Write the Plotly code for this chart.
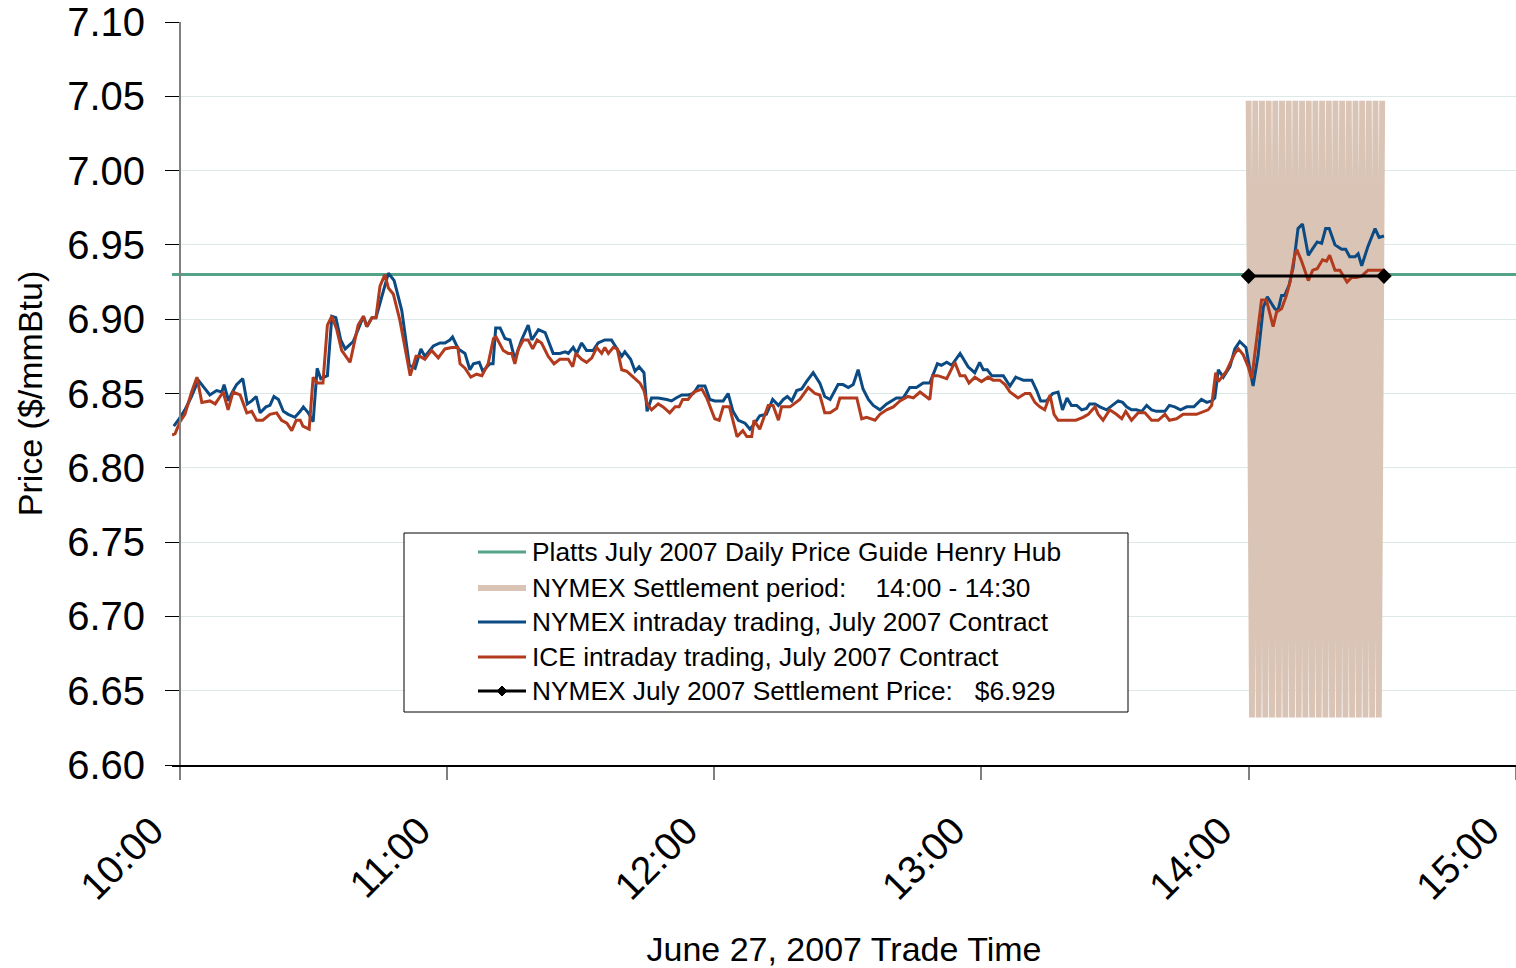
import plotly.graph_objects as go

# ---------------- data ----------------
# minutes after 10:00, price $/mmBtu
nymex_min = [-1.4, -0.4, 1.1, 2.6, 4.1, 5.2, 6.7, 8.2, 9.4, 9.9, 10.9, 11.6, 12.7, 14.1, 15.1, 16.1, 17.1, 18.0, 19.3, 20.2,
             21.1, 22.1, 23.2, 24.3, 25.8, 27.0, 27.7, 28.8, 29.9, 30.8, 31.6, 33.1, 34.1, 35.0, 36.1, 37.1, 38.9, 40.4,
             41.2, 42.0, 43.1, 44.0, 45.3, 46.8, 48.1, 49.8, 51.5, 52.8, 54.1, 55.0, 56.9, 58.4, 59.5, 60.6, 61.2, 62.5,
             64.0, 65.1, 65.9, 67.2, 68.0, 69.6, 70.3, 70.9, 71.9, 73.0, 74.1, 75.2, 76.7, 78.2, 79.0, 80.5, 82.0, 83.8,
             85.3, 86.5, 87.2, 88.3, 89.1, 90.2, 91.3, 92.8, 93.9, 95.4, 96.9, 98.1, 99.2, 99.9, 101.2, 102.2, 103.1,
             104.2, 104.9, 105.9, 107.4, 109.3, 110.4, 111.4, 112.7, 114.1, 115.3, 116.4, 117.9, 119.0, 120.1, 122.0,
             123.1, 124.2, 125.4, 126.9, 128.0, 129.1, 130.2, 131.7, 133.1, 134.4, 135.5, 136.4, 137.4, 138.5, 139.6,
             140.7, 142.2, 143.7, 144.8, 146.0, 147.8, 148.9, 150.1, 151.2, 152.3, 153.4, 154.6, 155.7, 157.2, 158.7,
             159.8, 160.9, 162.4, 163.9, 165.4, 166.9, 168.4, 170.1, 171.0, 172.2, 173.3, 175.2, 177.0, 178.5, 179.6,
             180.4, 181.3, 182.3, 183.4, 184.9, 186.4, 187.7, 189.4, 191.3, 192.4, 193.3, 194.6, 196.0, 197.2, 198.2,
             199.2, 200.2, 201.4, 202.5, 203.6, 204.3, 205.5, 206.6, 208.1, 209.4, 210.7, 211.7, 212.6, 213.7, 214.8,
             216.0, 217.1, 218.2, 219.3, 221.2, 222.2, 223.4, 224.7, 226.1, 227.7, 229.4, 230.6, 231.7, 232.4, 233.2,
             234.3, 235.8, 236.9, 238.0, 239.4, 240.3, 241.0, 242.1, 243.3, 244.2, 244.9, 245.9, 246.6, 247.4, 248.1,
             249.1, 250.0, 251.1, 252.1, 253.4, 254.5, 255.4, 256.4, 257.3, 258.1, 259.4, 260.9, 261.8, 262.7, 263.9,
             264.6, 265.4, 266.8, 268.4, 269.3, 270.4]
nymex_px = [6.828, 6.832, 6.839, 6.848, 6.859, 6.855, 6.849, 6.852, 6.851, 6.856, 6.845, 6.850, 6.856, 6.860, 6.843, 6.845,
            6.848, 6.837, 6.841, 6.842, 6.848, 6.846, 6.838, 6.836, 6.834, 6.838, 6.841, 6.837, 6.831, 6.867, 6.860, 6.862,
            6.902, 6.901, 6.886, 6.880, 6.885, 6.896, 6.902, 6.895, 6.901, 6.901, 6.915, 6.931, 6.926, 6.906, 6.869, 6.867,
            6.880, 6.875, 6.882, 6.884, 6.884, 6.886, 6.888, 6.880, 6.877, 6.866, 6.870, 6.871, 6.865, 6.870, 6.870, 6.894,
            6.894, 6.887, 6.886, 6.873, 6.886, 6.896, 6.886, 6.893, 6.891, 6.877, 6.877, 6.878, 6.877, 6.881, 6.877, 6.884,
            6.879, 6.879, 6.884, 6.886, 6.886, 6.880, 6.875, 6.878, 6.873, 6.865, 6.868, 6.864, 6.838, 6.847, 6.847, 6.846,
            6.845, 6.847, 6.849, 6.849, 6.850, 6.855, 6.855, 6.846, 6.845, 6.845, 6.850, 6.838, 6.832, 6.830, 6.826, 6.830,
            6.835, 6.836, 6.846, 6.842, 6.846, 6.848, 6.845, 6.852, 6.853, 6.858, 6.864, 6.857, 6.848, 6.846, 6.856, 6.856,
            6.854, 6.856, 6.866, 6.853, 6.846, 6.842, 6.839, 6.843, 6.845, 6.847, 6.847, 6.854, 6.854, 6.857, 6.857, 6.870,
            6.869, 6.871, 6.869, 6.877, 6.868, 6.864, 6.871, 6.866, 6.866, 6.862, 6.862, 6.862, 6.855, 6.861, 6.859, 6.859,
            6.852, 6.845, 6.845, 6.850, 6.851, 6.839, 6.847, 6.842, 6.842, 6.839, 6.840, 6.843, 6.843, 6.841, 6.839, 6.842,
            6.845, 6.844, 6.841, 6.839, 6.839, 6.838, 6.842, 6.839, 6.838, 6.838, 6.842, 6.841, 6.839, 6.841, 6.841, 6.846,
            6.844, 6.845, 6.847, 6.866, 6.861, 6.868, 6.880, 6.885, 6.881, 6.866, 6.855, 6.875, 6.908, 6.915, 6.912, 6.907,
            6.906, 6.916, 6.916, 6.923, 6.935, 6.961, 6.964, 6.943, 6.948, 6.952, 6.951, 6.961, 6.961, 6.950, 6.947, 6.947,
            6.942, 6.942, 6.944, 6.936, 6.949, 6.961, 6.955, 6.956]

ice_min = [-1.8, -1.1, 0.0, 1.1, 2.6, 3.8, 4.9, 6.7, 7.9, 9.7, 10.8, 11.9, 13.5, 15.0, 16.1, 17.2, 18.6, 20.2, 21.7, 22.8,
           24.0, 25.1, 26.1, 27.0, 27.6, 29.0, 29.9, 30.7, 32.1, 33.1, 34.1, 35.2, 36.3, 38.2, 40.0, 41.2, 41.9, 43.1,
           44.0, 44.9, 46.0, 46.8, 47.9, 49.4, 51.7, 53.0, 53.9, 55.0, 56.5, 58.0, 59.5, 61.0, 62.4, 62.9, 64.0, 65.3,
           66.6, 67.8, 69.2, 70.4, 71.0, 72.6, 73.7, 74.5, 75.2, 76.0, 77.1, 78.2, 79.2, 80.2, 81.2, 82.7, 84.0, 85.3,
           87.2, 88.2, 88.9, 90.2, 91.3, 92.5, 93.6, 94.7, 95.4, 96.2, 97.3, 98.2, 99.2, 100.3, 101.8, 103.3, 104.2,
           104.9, 105.9, 107.4, 108.5, 110.0, 111.2, 112.1, 112.9, 114.1, 115.4, 117.2, 118.3, 119.4, 120.1, 121.1,
           122.0, 123.4, 124.2, 125.1, 126.4, 127.3, 128.4, 128.9, 130.2, 132.1, 133.2, 134.4, 135.1, 137.0, 139.2,
           141.1, 142.6, 143.7, 144.8, 146.0, 147.5, 148.2, 152.0, 153.1, 154.2, 156.1, 157.2, 158.7, 160.2, 161.7,
           163.5, 164.7, 166.2, 168.4, 169.0, 170.2, 172.2, 174.0, 175.2, 176.3, 177.2, 178.5, 180.0, 181.5, 182.6,
           184.1, 185.3, 186.4, 188.2, 189.8, 190.9, 192.0, 193.1, 194.2, 195.4, 196.3, 197.2, 199.1, 201.2, 202.8,
           204.0, 205.5, 206.2, 207.3, 208.8, 210.3, 211.5, 212.4, 213.7, 215.2, 216.7, 218.2, 219.7, 221.2, 222.2,
           223.8, 225.3, 228.3, 229.8, 230.9, 231.7, 232.6, 233.2, 235.0, 236.9, 237.7, 238.8, 239.9, 240.7, 241.8,
           242.9, 244.0, 245.5, 246.3, 247.4, 248.5, 249.3, 250.2, 250.8, 251.9, 253.4, 254.4, 255.4, 256.6, 257.5,
           258.2, 259.4, 260.5, 262.1, 263.1, 264.2, 265.4, 266.8, 269.1, 270.4]
ice_px = [6.822, 6.823, 6.831, 6.836, 6.851, 6.861, 6.844, 6.845, 6.843, 6.851, 6.839, 6.851, 6.849, 6.837, 6.838, 6.832,
          6.832, 6.836, 6.837, 6.832, 6.830, 6.825, 6.832, 6.832, 6.828, 6.826, 6.861, 6.857, 6.857, 6.896, 6.902, 6.893,
          6.879, 6.871, 6.896, 6.902, 6.895, 6.901, 6.901, 6.922, 6.930, 6.921, 6.917, 6.899, 6.862, 6.875, 6.875, 6.873,
          6.879, 6.874, 6.880, 6.881, 6.881, 6.870, 6.867, 6.861, 6.863, 6.862, 6.870, 6.887, 6.888, 6.879, 6.877, 6.877,
          6.870, 6.880, 6.886, 6.886, 6.880, 6.886, 6.884, 6.875, 6.870, 6.873, 6.873, 6.868, 6.877, 6.873, 6.871, 6.874,
          6.881, 6.877, 6.881, 6.877, 6.881, 6.880, 6.866, 6.865, 6.861, 6.857, 6.852, 6.843, 6.839, 6.843, 6.841, 6.837,
          6.841, 6.841, 6.846, 6.846, 6.851, 6.853, 6.847, 6.838, 6.833, 6.832, 6.841, 6.841, 6.832, 6.821, 6.825, 6.821,
          6.821, 6.832, 6.826, 6.842, 6.842, 6.832, 6.841, 6.841, 6.846, 6.854, 6.850, 6.849, 6.837, 6.837, 6.840, 6.847,
          6.847, 6.833, 6.834, 6.832, 6.836, 6.839, 6.841, 6.845, 6.848, 6.847, 6.851, 6.846, 6.862, 6.862, 6.860, 6.871,
          6.862, 6.862, 6.857, 6.861, 6.858, 6.861, 6.859, 6.859, 6.856, 6.851, 6.847, 6.850, 6.850, 6.844, 6.841, 6.839,
          6.849, 6.836, 6.832, 6.832, 6.832, 6.834, 6.836, 6.841, 6.836, 6.832, 6.839, 6.836, 6.833, 6.838, 6.832, 6.837,
          6.837, 6.832, 6.832, 6.836, 6.832, 6.833, 6.836, 6.836, 6.838, 6.839, 6.842, 6.864, 6.858, 6.865, 6.877, 6.880,
          6.876, 6.868, 6.860, 6.888, 6.913, 6.913, 6.895, 6.905, 6.907, 6.916, 6.925, 6.941, 6.947, 6.939, 6.926, 6.933,
          6.934, 6.940, 6.939, 6.943, 6.933, 6.933, 6.925, 6.928, 6.928, 6.929, 6.933, 6.933, 6.933]

platts_min = [-1.8, 300.05]
platts_px = [6.93, 6.93]

settle_min = [240.0, 270.4]
settle_px = [6.929, 6.929]

band_min = [240.0, 240.75, 241.5, 242.25, 243.0, 243.75, 244.5, 245.25, 246.0, 246.75, 247.5, 248.25, 249.0, 249.75,
            250.5, 251.25, 252.0, 252.75, 253.5, 254.25, 255.0, 255.75, 256.5, 257.25, 258.0, 258.75, 259.5, 260.25,
            261.0, 261.75, 262.5, 263.25, 264.0, 264.75, 265.5, 266.25, 267.0, 267.75, 268.5, 269.25, 270.0]
band_px = [7.047, 6.632, 7.047, 6.632, 7.047, 6.632, 7.047, 6.632, 7.047, 6.632, 7.047, 6.632, 7.047, 6.632,
           7.047, 6.632, 7.047, 6.632, 7.047, 6.632, 7.047, 6.632, 7.047, 6.632, 7.047, 6.632, 7.047, 6.632,
           7.047, 6.632, 7.047, 6.632, 7.047, 6.632, 7.047, 6.632, 7.047, 6.632, 7.047, 6.632, 7.047]

tick_minutes = [0, 60, 120, 180, 240, 300]
tick_labels = ["10:00", "11:00", "12:00", "13:00", "14:00", "15:00"]
y_ticks = [6.60, 6.65, 6.70, 6.75, 6.80, 6.85, 6.90, 6.95, 7.00, 7.05, 7.10]

legend_labels = [
    "Platts July 2007 Daily Price Guide Henry Hub",
    "NYMEX Settlement period:    14:00 - 14:30",
    "NYMEX intraday trading, July 2007 Contract",
    "ICE intraday trading, July 2007 Contract",
    "NYMEX July 2007 Settlement Price:   $6.929",
]

# ---------------- style ----------------
C_GREEN = "#55a386"
C_TAN = "#d9c4b6"
C_BLUE = "#0b4a82"
C_RED = "#b23b1e"
C_BLACK = "#000000"
legend_colors = [C_GREEN, C_TAN, C_BLUE, C_RED, C_BLACK]
legend_widths = [3, 6, 3, 3, 3]

FONT = "Liberation Sans, Arial, sans-serif"

# body margin is removed by a post-script, so the figure fills the window exactly
W, H = 1516, 968
ML, MR, MT = 172, 0, 22
PW, PH = W - ML - MR, 743
MB = H - MT - PH

def fx(px):
    return (px - ML) / PW

def fy(py):
    return (MT + PH - py) / PH

fig = go.Figure()
fig.add_trace(go.Scatter(x=platts_min, y=platts_px, mode="lines", name=legend_labels[0],
                         line=dict(color=C_GREEN, width=3), showlegend=False, hoverinfo="skip"))
fig.add_trace(go.Scatter(x=band_min, y=band_px, mode="lines", name=legend_labels[1],
                         line=dict(color=C_TAN, width=5.8), showlegend=False, hoverinfo="skip"))
fig.add_trace(go.Scatter(x=nymex_min, y=nymex_px, mode="lines", name=legend_labels[2],
                         line=dict(color=C_BLUE, width=3), showlegend=False))
fig.add_trace(go.Scatter(x=ice_min, y=ice_px, mode="lines", name=legend_labels[3],
                         line=dict(color=C_RED, width=3), showlegend=False))
fig.add_trace(go.Scatter(x=settle_min, y=settle_px, mode="lines+markers", name=legend_labels[4],
                         line=dict(color=C_BLACK, width=3),
                         marker=dict(symbol="diamond", size=12, color=C_BLACK), showlegend=False))

# ---------- manual legend box ----------
shapes = [dict(type="rect", xref="paper", yref="paper", x0=fx(404), x1=fx(1128), y0=fy(712), y1=fy(533),
               line=dict(color="#000000", width=1), fillcolor="rgba(255,255,255,1)", layer="above")]
annotations = []
rows = [552, 588, 622, 657, 691]
for lab, col, lw, ry in zip(legend_labels, legend_colors, legend_widths, rows):
    shapes.append(dict(type="line", xref="paper", yref="paper", x0=fx(478), x1=fx(526), y0=fy(ry), y1=fy(ry),
                       line=dict(color=col, width=lw), layer="above"))
    annotations.append(dict(xref="paper", yref="paper", x=fx(530), y=fy(ry), text=lab.replace(" ", "&nbsp;"),
                            showarrow=False, xanchor="left", yanchor="middle",
                            font=dict(family=FONT, size=26.3, color="#000000")))
# diamond on the settlement-price legend sample
dx, dy = 5 / PW, 5 / PH
cx, cy = fx(502), fy(rows[4])
shapes.append(dict(type="path", xref="paper", yref="paper",
                   path=f"M {cx-dx},{cy} L {cx},{cy+dy} L {cx+dx},{cy} L {cx},{cy-dy} Z",
                   fillcolor="#000000", line=dict(color="#000000", width=1), layer="above"))

fig.update_layout(
    width=W, height=H,
    margin=dict(l=ML, r=MR, t=MT, b=MB, pad=0, autoexpand=False),
    paper_bgcolor="white", plot_bgcolor="white",
    showlegend=False,
    font=dict(family=FONT, color="#000000"),
    shapes=shapes, annotations=annotations,
    xaxis=dict(
        range=[-1.8, 300.05], tickmode="array", tickvals=tick_minutes, ticktext=tick_labels,
        tickangle=-45, tickfont=dict(size=39, family=FONT), ticks="outside", ticklen=13, tickcolor="#808080",
        tickwidth=2, showline=True, linecolor="#000000", linewidth=2, showgrid=False, zeroline=False,
        automargin=False, ticklabeloverflow="allow",
        title=dict(text="June 27, 2007 Trade Time", font=dict(size=34, family=FONT), standoff=40),
        ticklabelstandoff=12, ticklabelshift=-28,
    ),
    yaxis=dict(
        range=[6.60, 7.10], tickmode="array", tickvals=y_ticks, tickformat=".2f",
        tickfont=dict(size=40, family=FONT), ticks="outside", ticklen=14, tickcolor="#000000", tickwidth=1,
        showline=True, linecolor="#808080", linewidth=2, showgrid=True, gridcolor="#dde8e8", gridwidth=1,
        zeroline=False, anchor="free", position=fx(180), automargin=False, ticklabeloverflow="allow",
        title=dict(text="Price ($/mmBtu)", font=dict(size=34, family=FONT), standoff=13),
        ticklabelstandoff=12,
    ),
)

fig.write_html("out.html", config={"displayModeBar": False},
               post_script="document.body.style.margin='0px';document.body.style.overflow='hidden';")
